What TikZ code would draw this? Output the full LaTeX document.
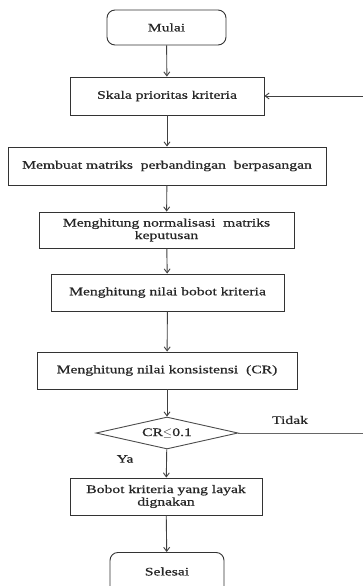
\documentclass[tikz,border=0pt]{standalone}
\usepackage{fontspec}
\setmainfont{Liberation Serif}[FakeStretch=1.36, FakeBold=0.6]
\usetikzlibrary{shapes.geometric,arrows.meta}
\begin{document}
\begin{tikzpicture}[x=1pt,y=-1pt,
  every node/.style={font=\fontsize{11.5}{12.5}\selectfont, text=black!85},
  box/.style={draw=black!80, line width=0.9pt, align=center, inner sep=0pt},
  term/.style={box, rounded corners=8pt},
  dec/.style={draw=black!70, line width=0.9pt, diamond, aspect=4.4, inner sep=0pt},
  flow/.style={draw=black!75, line width=0.9pt, -{Straight Barb[length=4pt,width=6pt]}},
  plain/.style={draw=black!60, line width=1pt}]
\useasboundingbox (0,0) rectangle (363,586);
\clip (0,0) rectangle (363,586);
\fill[white] (0,0) rectangle (363,586);
\node[term, minimum width=119pt, minimum height=35pt] (mulai) at (166.5,27.5) {Mulai};
\node[box, minimum width=194pt, minimum height=38pt] (skala) at (167,96) {Skala prioritas kriteria};
\node[box, minimum width=318pt, minimum height=38pt] (membuat) at (167,166) {Membuat matriks\ \ perbandingan\ \ berpasangan};
\node[box, minimum width=255pt, minimum height=36pt] (norm) at (166.5,230) {Menghitung normalisasi\ \ matriks\\keputusan};
\node[box, minimum width=233pt, minimum height=37pt] (bobot) at (167.5,292.5) {Menghitung nilai bobot kriteria};
\node[box, minimum width=260pt, minimum height=37pt] (cr) at (167,370.5) {Menghitung nilai konsistensi\ \ (CR)};
\node[dec, minimum width=142pt, minimum height=32pt] (dec) at (167,433) {CR$\leq$0.1};
\node[box, minimum width=192pt, minimum height=37pt] (layak) at (166,496.5) {Bobot kriteria yang layak\\dignakan};
\node[term, minimum width=114pt, minimum height=44pt, anchor=north] (selesai) at (167,552) {\raisebox{6pt}{Selesai}};
\coordinate (fb) at (363,96);
\coordinate (td) at (363,433);
\draw[flow] (mulai) -- (skala);
\draw[flow] (skala) -- (membuat);
\draw[flow] (membuat) -- (norm);
\draw[flow] (norm) -- (bobot);
\draw[flow] (bobot) -- (cr);
\draw[flow] (cr) -- (dec);
\draw[flow] (dec) -- (layak);
\draw[flow] (layak) -- (selesai);
\draw[flow] (fb) -- (skala);
\draw[plain] (dec.east) -- (td);
\node (tidak) at (290,420) {Tidak};
\node (ya) at (125,459) {Ya};
\end{tikzpicture}
\end{document}
